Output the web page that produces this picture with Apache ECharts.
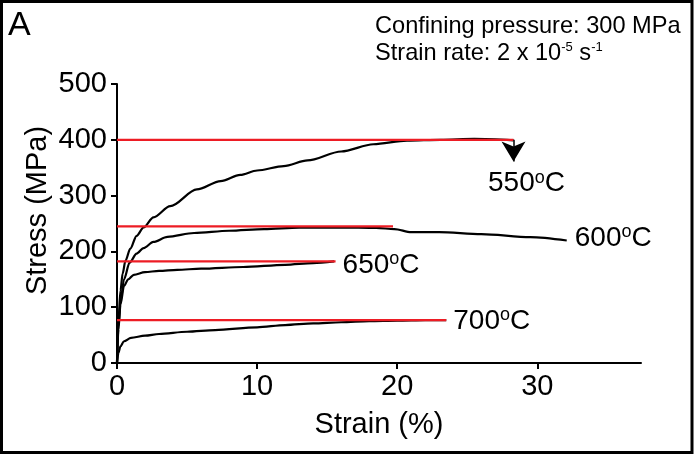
<!DOCTYPE html>
<html>
<head>
<meta charset="utf-8">
<script src="https://cdn.jsdelivr.net/npm/echarts@6/dist/echarts.min.js"></script>
<style>
  html, body { margin: 0; padding: 0; background: #fff; }
  #chart { width: 694px; height: 456px; }
</style>
</head>
<body>
<div id="chart"></div>
<script>
// Stress–strain curves at four test temperatures
const temps = ['550', '600', '650', '700'];

const strain550 = [0, 0.1, 0.25, 0.4, 0.6, 0.95, 1.4, 1.9, 2.6, 3.8, 5.7, 7.4, 8.8, 10, 11.9, 13.6, 16, 18.3, 20.7, 23.1, 25.5, 28.3];
const stress550 = [0, 75, 130, 160, 183, 205, 228, 243, 261, 281, 311, 326, 337, 345, 353, 363, 379, 392, 398.5, 400, 401.5, 399];

const strain600 = [0, 0.1, 0.25, 0.5, 0.9, 1.4, 1.9, 2.6, 3.6, 5.5, 8, 10.5, 13, 16, 18.5, 19.8, 21, 23, 26, 29.5, 32.1];
const stress600 = [0, 65, 110, 150, 180, 196, 206, 217, 226, 233, 237, 240, 242.5, 243, 242, 240, 234.5, 234.5, 231, 225.5, 219.5];

const strain650 = [0, 0.1, 0.25, 0.5, 0.8, 1.2, 2, 3, 4.3, 6, 9, 12, 14, 15.5];
const stress650 = [0, 60, 105, 138, 150, 158, 163, 165, 167, 169, 172, 176, 179, 182];

const strain700 = [0, 0.1, 0.25, 0.5, 1, 2, 3, 5, 7, 10, 12, 14, 16, 18, 20, 22, 23.5];
const stress700 = [0, 18, 30, 39, 45, 49, 52, 56, 59, 64, 68, 71, 73, 75, 76, 77, 77];

// Horizontal reference lines at peak stress, and where each ends
const peakStress = [400, 245, 182, 77];
const peakLineEnd = [28.3, 19.7, 15.6, 23.5];

// Tip of the downward arrow under the 550 °C peak line
const arrowTipStress = 361;

// Axis ticks
const xTicks = [0, 10, 20, 30];
const yMin = 0, yMax = 500, yStep = 100;
const xMax = 37.4;

const FONT = 'Liberation Sans, Arial, Helvetica, sans-serif';
const RED = '#ed1c24';

const tempRich = {
  v: { fontSize: 28, fontFamily: FONT, color: '#000', lineHeight: 30 },
  d: { fontSize: 18, fontFamily: FONT, color: '#000', lineHeight: 30, verticalAlign: 'top' }
};
const tempText = t => '{v|' + t + '}{d|o}{v|C}';

const curves = [
  [strain550, stress550],
  [strain600, stress600],
  [strain650, stress650],
  [strain700, stress700]
];

const zip = (xs, ys) => xs.map((x, i) => [x, ys[i]]);

const series = [];

curves.forEach(([xs, ys], i) => {
  const s = {
    name: temps[i] + ' curve',
    type: 'line',
    data: zip(xs, ys),
    showSymbol: false,
    smooth: 0.3,
    smoothMonotone: 'x',
    lineStyle: { color: '#000', width: 2.2 },
    z: 2,
    silent: true
  };
  if (temps[i] === '600') {
    s.endLabel = {
      show: true,
      distance: 8,
      offset: [0, -2],
      formatter: () => tempText('600'),
      rich: tempRich
    };
  }
  series.push(s);
});

peakStress.forEach((p, i) => {
  const s = {
    name: temps[i] + ' peak',
    type: 'line',
    data: [[0, p], [peakLineEnd[i], p]],
    showSymbol: false,
    lineStyle: { color: RED, width: 2.2 },
    z: 3,
    silent: true
  };
  if (temps[i] === '650' || temps[i] === '700') {
    s.endLabel = {
      show: true,
      distance: 7,
      offset: temps[i] === '650' ? [0, 4] : [0, 1],
      formatter: () => tempText(temps[i]),
      rich: tempRich
    };
  }
  if (temps[i] === '550') {
    s.markLine = {
      silent: true,
      symbol: ['none', 'arrow'],
      symbolSize: [18, 20],
      lineStyle: { color: '#000', width: 1.5, type: 'solid' },
      label: {
        show: true,
        position: 'end',
        distance: 7,
        padding: [0, 0, 0, 26],
        formatter: () => tempText('550'),
        rich: tempRich
      },
      data: [[
        { coord: [peakLineEnd[i], p] },
        { coord: [peakLineEnd[i], arrowTipStress] }
      ]]
    };
  }
  series.push(s);
});

const chart = echarts.init(document.getElementById('chart'), null, { renderer: 'canvas' });

chart.setOption({
  animation: false,
  backgroundColor: '#fff',
  grid: { left: 117, right: 53, top: 84, bottom: 93, containLabel: false },
  xAxis: {
    type: 'value',
    min: 0,
    max: xMax,
    name: 'Strain (%)',
    nameLocation: 'middle',
    nameGap: 47,
    nameMoveOverlap: false,
    nameTextStyle: { fontSize: 29, fontFamily: FONT, color: '#000' },
    axisLine: { show: true, onZero: false, lineStyle: { color: '#000', width: 2 } },
    axisTick: { show: true, length: 6, lineStyle: { color: '#000', width: 2 }, customValues: xTicks },
    axisLabel: { fontSize: 29, fontFamily: FONT, color: '#000', margin: 9, customValues: xTicks },
    splitLine: { show: false }
  },
  yAxis: {
    type: 'value',
    min: yMin,
    max: yMax,
    interval: yStep,
    name: 'Stress (MPa)',
    nameLocation: 'middle',
    nameGap: 65,
    nameMoveOverlap: false,
    nameTextStyle: { fontSize: 29, fontFamily: FONT, color: '#000', padding: [0, 0, 0, 26] },
    axisLine: { show: true, lineStyle: { color: '#000', width: 2 } },
    axisTick: { show: true, length: 6, lineStyle: { color: '#000', width: 2 } },
    axisLabel: { fontSize: 29, fontFamily: FONT, color: '#000', margin: 10 },
    splitLine: { show: false }
  },
  graphic: [
    {
      type: 'rect',
      shape: { x: 1.5, y: 1.5, width: 690.5, height: 451 },
      style: { fill: 'none', stroke: '#000', lineWidth: 3 },
      silent: true,
      z: 100
    },
    {
      type: 'text',
      left: 8,
      top: 9,
      style: { text: 'A', fontSize: 34, fontFamily: FONT, fill: '#000' }
    },
    {
      type: 'text',
      left: 375,
      top: 14,
      style: { text: 'Confining pressure: 300 MPa', fontSize: 23.6, fontFamily: FONT, fill: '#000' }
    },
    {
      type: 'text',
      left: 375,
      top: 41,
      style: {
        text: '{n|Strain rate: 2 x 10}{s|-5}{n| s}{s|-1}',
        rich: {
          n: { fontSize: 23.6, fontFamily: FONT, fill: '#000', lineHeight: 24 },
          s: { fontSize: 13, fontFamily: FONT, fill: '#000', lineHeight: 24, verticalAlign: 'top' }
        }
      }
    }
  ],
  series: series
});
</script>
</body>
</html>
